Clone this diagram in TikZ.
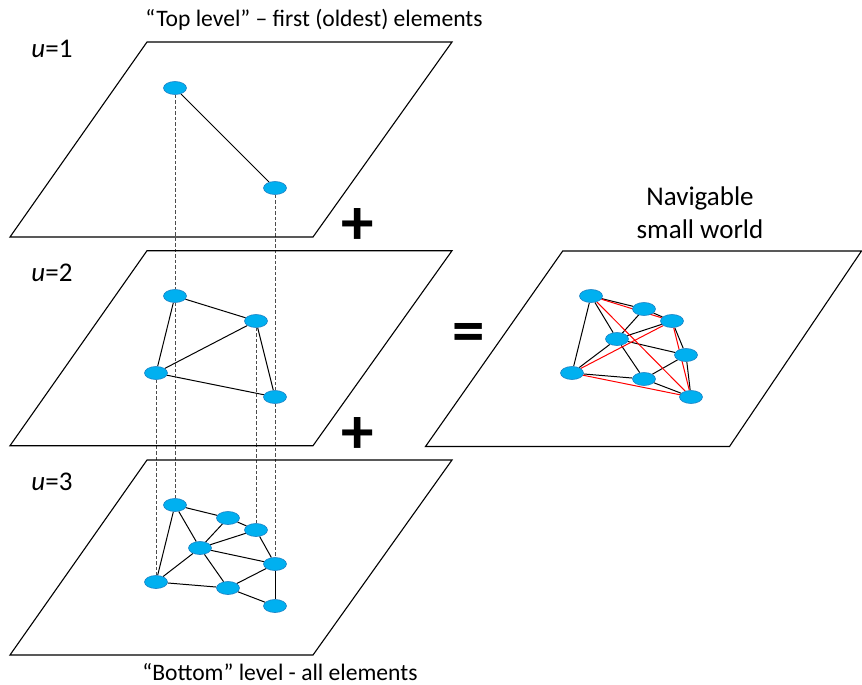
\documentclass[tikz,border=0pt]{standalone}
\usepackage{fontspec}
\setmainfont{Carlito}
\usetikzlibrary{shapes.geometric,backgrounds}
\definecolor{elemblue}{RGB}{0,176,240}
\definecolor{elemrim}{RGB}{25,128,196}

\begin{document}
\begin{tikzpicture}[
  x=1pt, y=-1pt,
  plane/.style={line width=1.1pt, black},
  link/.style={line width=1pt, black},
  longlink/.style={line width=1pt, red},
  drop/.style={dash pattern=on 3.5pt off 2pt, line width=0.6pt, black!70},
  elem/.style={ellipse, draw=elemrim, fill=elemblue, line width=0.6pt, minimum width=23pt, minimum height=13pt, inner sep=0pt},
  caption/.style={font=\fontsize{23.6}{28}\selectfont, anchor=base},
  bigcaption/.style={font=\fontsize{27}{32}\selectfont, anchor=base},
  sign/.style={font=\fontsize{65}{65}\selectfont\bfseries}
]
  \useasboundingbox (0,0) rectangle (862,685);

  % the three levels and the merged graph
  \foreach \dy in {0,208.7,418}
    \draw[plane] (147,42+\dy) -- (452,42+\dy) -- (313,237+\dy) -- (10,237+\dy) -- cycle;
  \draw[plane] (562.7,251) -- (861.5,251) -- (729.5,446.5) -- (425.5,446.5) -- cycle;

  \node[elem] (t1) at (175,88) {};
  \node[elem] (t2) at (275,188) {};
  \foreach \n/\px/\py in {1/175/296, 2/256/321, 3/156/373, 4/275/397}
    \node[elem] (m\n) at (\px,\py) {};
  \foreach \n/\px/\py in {1/175/505, 2/228/518, 3/256/530, 4/200/548, 5/275/564, 6/156/582, 7/228/588, 8/275/606}
    \node[elem] (b\n) at (\px,\py) {};
  \foreach \n/\px/\py in {1/591/296, 2/644/309, 3/672/321, 4/617/339, 5/686/355, 6/572/373, 7/644/379, 8/691/397}
    \node[elem] (r\n) at (\px,\py) {};

  \begin{scope}[on background layer]
    \draw[link] (t1) -- (t2);
    \foreach \a/\b in {1/2,1/3,2/3,2/4,3/4}
      \draw[link] (m\a) -- (m\b);
    \foreach \a/\b in {1/2,1/4,1/6,2/3,2/4,3/4,3/5,4/5,4/6,4/7,6/7,5/7,7/8,5/8} {
      \draw[link] (b\a) -- (b\b);
      \draw[link] (r\a) -- (r\b);
    }
    \foreach \a/\b in {1/3,1/8,3/6,3/8,6/8}
      \draw[longlink] (r\a) -- (r\b);
    \draw[drop] (t1) -- (m1) (m1) -- (b1);
    \draw[drop] (t2) -- (m4) (m4) -- (b5);
    \draw[drop] (m2) -- (b3);
    \draw[drop] (m3) -- (b6);
  \end{scope}

  \node[caption] (toplabel) at (314,26.5) {“Top level” – first (oldest) elements};
  \node[caption] (botlabel) at (280,680) {“Bottom” level - all elements};
  \node[bigcaption] (navi) at (700,205) {Navigable};
  \node[bigcaption] (small) at (700,238) {small world};
  \node[bigcaption] (u1) at (52,57.3) {\textit{u}=1};
  \node[bigcaption] (u2) at (52,281.5) {\textit{u}=2};
  \node[bigcaption] (u3) at (52,490.5) {\textit{u}=3};

  \node[sign] (plusA) at (358,227) {+};
  \node[sign] (plusB) at (358,435.5) {+};
  \node[sign] (equal) at (469,337.5) {=};
\end{tikzpicture}
\end{document}
